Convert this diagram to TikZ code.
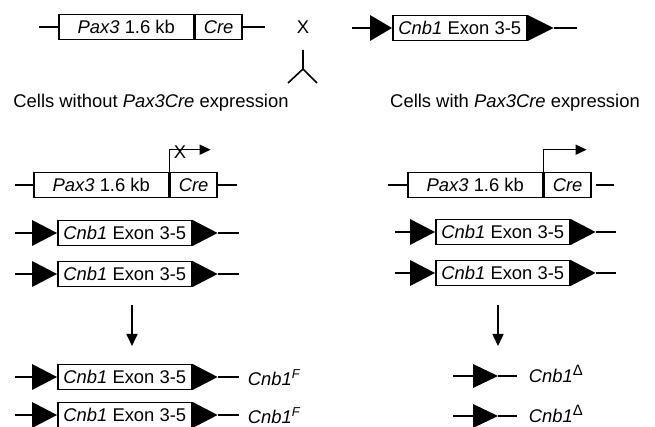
\documentclass[tikz,border=0pt]{standalone}
\usepackage{fontspec}
\setmainfont{Liberation Sans}
\usetikzlibrary{arrows.meta}

\begin{document}
\begin{tikzpicture}[
  x=0.5pt, y=-0.5pt,
  font=\fontsize{9.2}{11}\selectfont,
  line width=0.8pt,
  genebox/.style={
    draw,
    anchor=west,
    inner sep=0pt,
    minimum height=12.5pt
  },
  paxbox/.style={genebox, minimum width=67.5pt},
  crebox/.style={genebox, minimum width=23.25pt},
  exonbox/.style={genebox, minimum width=67pt},
  allele/.style={anchor=base west, inner sep=0pt},
  arrow/.style={-{Triangle[length=6pt,width=5.5pt]}},
  promoter/.style={-{Triangle[length=5.5pt,width=5pt]}}
]
\useasboundingbox (0,0) rectangle (655,427);

% cross
\node[paxbox] (pax0) at (58,27) {\textit{Pax3} 1.6 kb};
\node[crebox] (cre0) at (pax0.east) {\textit{Cre}};
\draw (pax0.west) -- ++(-19,0);
\draw (cre0.east) -- ++(22,0);
\node (cross) at (303,27) {X};
\coordinate (forktop) at (303,50);
\coordinate (fork) at (303,69);
\coordinate (forkl) at (288,83);
\coordinate (forkr) at (317,83);
\draw (forktop) -- (fork) -- (forkl);
\draw (fork) -- (forkr);
\node[exonbox] (cnb0) at (392,28) {\textit{Cnb1} Exon 3-5};
\fill (cnb0.west) -- ++(-22,-13) -- ++(0,26) -- cycle;
\fill (cnb0.east) ++(0,-13) -- ++(26,13) -- ++(-26,13) -- cycle;
\draw (cnb0.west) ++(-22,0) -- ++(-18,0);
\draw (cnb0.east) ++(26,0) -- ++(23,0);

\node (without) at (151,103) {Cells without \textit{Pax3Cre} expression};
\node (with) at (515,103) {Cells with \textit{Pax3Cre} expression};

% without Cre
\node[paxbox] (pax1) at (33,185) {\textit{Pax3} 1.6 kb};
\node[crebox] (cre1) at (pax1.east) {\textit{Cre}};
\draw (pax1.west) -- ++(-18,0);
\draw (cre1.east) -- ++(19,0);
\draw[promoter] (cre1.north west) -- ++(0,-22) -- ++(41,0);
\node (block) at (180,152) {X};

\node[exonbox] (cnb1) at (57,233) {\textit{Cnb1} Exon 3-5};
\fill (cnb1.west) -- ++(-25,-13) -- ++(0,26) -- cycle;
\fill (cnb1.east) ++(0,-13) -- ++(25,13) -- ++(-25,13) -- cycle;
\draw (cnb1.west) ++(-25,0) -- ++(-17,0);
\draw (cnb1.east) ++(25,0) -- ++(21,0);

\node[exonbox] (cnb2) at (57,274) {\textit{Cnb1} Exon 3-5};
\fill (cnb2.west) -- ++(-25,-13) -- ++(0,26) -- cycle;
\fill (cnb2.east) ++(0,-13) -- ++(25,13) -- ++(-25,13) -- cycle;
\draw (cnb2.west) ++(-25,0) -- ++(-17,0);
\draw (cnb2.east) ++(25,0) -- ++(21,0);

\coordinate (downl) at (132,305);
\coordinate (downlend) at (132,346);
\draw[arrow] (downl) -- (downlend);

\node[exonbox] (cnb3) at (57,377) {\textit{Cnb1} Exon 3-5};
\fill (cnb3.west) -- ++(-25,-13) -- ++(0,26) -- cycle;
\fill (cnb3.east) ++(0,-13) -- ++(25,13) -- ++(-25,13) -- cycle;
\draw (cnb3.west) ++(-25,0) -- ++(-17,0);
\draw (cnb3.east) ++(25,0) -- ++(21,0);
\node[allele] (flox1) at (247,386) {\textit{Cnb1\textsuperscript{F}}};

\node[exonbox] (cnb4) at (57,415) {\textit{Cnb1} Exon 3-5};
\fill (cnb4.west) -- ++(-25,-13) -- ++(0,26) -- cycle;
\fill (cnb4.east) ++(0,-13) -- ++(25,13) -- ++(-25,13) -- cycle;
\draw (cnb4.west) ++(-25,0) -- ++(-17,0);
\draw (cnb4.east) ++(25,0) -- ++(21,0);
\node[allele] (flox2) at (247,424) {\textit{Cnb1\textsuperscript{F}}};

% with Cre
\node[paxbox] (pax2) at (407,185) {\textit{Pax3} 1.6 kb};
\node[crebox] (cre2) at (pax2.east) {\textit{Cre}};
\draw (pax2.west) -- ++(-19,0);
\draw ([xshift=2pt]cre2.east) -- ++(18,0);
\draw[promoter] (cre2.north west) -- ++(0,-22) -- ++(43,0);

\node[exonbox] (cnb5) at (435,232) {\textit{Cnb1} Exon 3-5};
\fill (cnb5.west) -- ++(-25,-13) -- ++(0,26) -- cycle;
\fill (cnb5.east) ++(0,-13) -- ++(25,13) -- ++(-25,13) -- cycle;
\draw (cnb5.west) ++(-25,0) -- ++(-15,0);
\draw (cnb5.east) ++(25,0) -- ++(20,0);

\node[exonbox] (cnb6) at (435,273) {\textit{Cnb1} Exon 3-5};
\fill (cnb6.west) -- ++(-25,-13) -- ++(0,26) -- cycle;
\fill (cnb6.east) ++(0,-13) -- ++(25,13) -- ++(-25,13) -- cycle;
\draw (cnb6.west) ++(-25,0) -- ++(-15,0);
\draw (cnb6.east) ++(25,0) -- ++(20,0);

\coordinate (downr) at (498,305);
\coordinate (downrend) at (498,346);
\draw[arrow] (downr) -- (downrend);

\coordinate (lox1) at (498,376);
\fill (lox1) -- ++(-25,-12) -- ++(0,24) -- cycle;
\draw (lox1) ++(-25,0) -- ++(-20,0);
\draw (lox1) -- ++(19,0);
\node[allele] (del1) at (528,383) {\textit{Cnb1}\textsuperscript{\fontsize{7.5}{8}\selectfont Δ}};

\coordinate (lox2) at (498,416);
\fill (lox2) -- ++(-25,-12) -- ++(0,24) -- cycle;
\draw (lox2) ++(-25,0) -- ++(-20,0);
\draw (lox2) -- ++(19,0);
\node[allele] (del2) at (528,423) {\textit{Cnb1}\textsuperscript{\fontsize{7.5}{8}\selectfont Δ}};
\end{tikzpicture}
\end{document}
